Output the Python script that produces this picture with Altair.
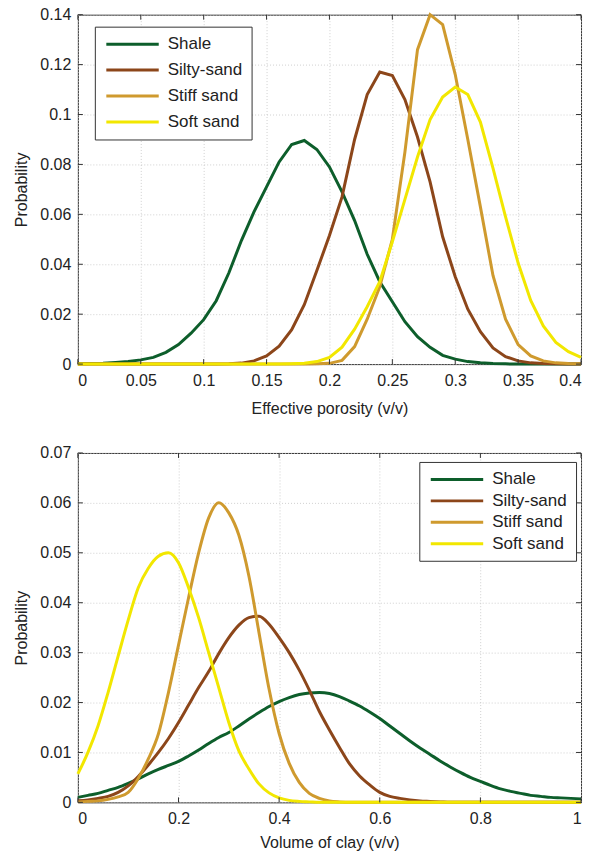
import altair as alt
import pandas as pd

FONT = "Liberation Sans"
series = ["Shale", "Silty-sand", "Stiff sand", "Soft sand"]
colors = ["#0d5e2b", "#8c461a", "#cf9a2e", "#f2e700"]

# ---------- top panel: effective porosity ----------
por_x = [0.00, 0.01, 0.02, 0.03, 0.04, 0.05, 0.06, 0.07, 0.08, 0.09,
         0.10, 0.11, 0.12, 0.13, 0.14, 0.15, 0.16, 0.17, 0.18, 0.19,
         0.20, 0.21, 0.22, 0.23, 0.24, 0.25, 0.26, 0.27, 0.28, 0.29,
         0.30, 0.31, 0.32, 0.33, 0.34, 0.35, 0.36, 0.37, 0.38, 0.39, 0.40]
por_shale = [0.0001, 0.0002, 0.0003, 0.0006, 0.0010, 0.0017, 0.0027, 0.0047, 0.0078, 0.0124,
             0.0178, 0.0254, 0.0365, 0.0495, 0.0610, 0.0710, 0.0810, 0.0880, 0.0896, 0.0860,
             0.0790, 0.0690, 0.0575, 0.0440, 0.0330, 0.0250, 0.0170, 0.0110, 0.0067, 0.0035,
             0.0020, 0.0010, 0.0005, 0.0002, 0.0001, 0.0, 0.0, 0.0, 0.0, 0.0, 0.0]
por_silty = [0.0, 0.0, 0.0, 0.0, 0.0, 0.0, 0.0, 0.0, 0.0, 0.0,
             0.0, 0.0, 0.0001, 0.0004, 0.0013, 0.0033, 0.0072, 0.0138, 0.0238, 0.0375,
             0.0515, 0.0670, 0.0900, 0.1080, 0.1170, 0.1156, 0.1060, 0.0910, 0.0730, 0.0510,
             0.0350, 0.0220, 0.0130, 0.0065, 0.0030, 0.0013, 0.0005, 0.0002, 0.0001, 0.0, 0.0]
por_stiff = [0.0, 0.0, 0.0, 0.0, 0.0, 0.0, 0.0, 0.0, 0.0, 0.0,
             0.0, 0.0, 0.0, 0.0, 0.0, 0.0, 0.0, 0.0, 0.0, 0.0001,
             0.0003, 0.0015, 0.0070, 0.0180, 0.0310, 0.0500, 0.0850, 0.1260, 0.1400, 0.1360,
             0.1160, 0.0900, 0.0630, 0.0355, 0.0180, 0.0078, 0.0033, 0.0013, 0.0005, 0.0002, 0.0001]
por_soft = [0.0, 0.0, 0.0, 0.0, 0.0, 0.0, 0.0, 0.0, 0.0, 0.0,
            0.0, 0.0, 0.0, 0.0, 0.0, 0.0, 0.0, 0.0001, 0.0003, 0.0010,
            0.0027, 0.0068, 0.0140, 0.0230, 0.0330, 0.0490, 0.0660, 0.0830, 0.0980, 0.1070,
            0.1110, 0.1080, 0.0970, 0.0785, 0.0590, 0.0405, 0.0255, 0.0153, 0.0087, 0.0050, 0.0027]

por_xticks = [0, 0.05, 0.1, 0.15, 0.2, 0.25, 0.3, 0.35, 0.4]
por_yticks = [0, 0.02, 0.04, 0.06, 0.08, 0.1, 0.12, 0.14]

# ---------- bottom panel: volume of clay ----------
vcl_x = [0.00, 0.02, 0.04, 0.06, 0.08, 0.10, 0.12, 0.14, 0.16, 0.18,
         0.20, 0.22, 0.24, 0.26, 0.28, 0.30, 0.32, 0.34, 0.36, 0.38,
         0.40, 0.42, 0.44, 0.46, 0.48, 0.50, 0.52, 0.54, 0.56, 0.58,
         0.60, 0.62, 0.64, 0.66, 0.68, 0.70, 0.72, 0.74, 0.76, 0.78,
         0.80, 0.82, 0.84, 0.86, 0.88, 0.90, 0.92, 0.94, 0.96, 0.98, 1.00]
vcl_shale = [0.0010, 0.0014, 0.0018, 0.0024, 0.0030, 0.0038, 0.0047, 0.0057, 0.0066, 0.0074,
             0.0082, 0.0093, 0.0105, 0.0118, 0.0130, 0.0140, 0.0153, 0.0167, 0.0180, 0.0192,
             0.0202, 0.0210, 0.0216, 0.0219, 0.0220, 0.0218, 0.0212, 0.0203, 0.0193, 0.0181,
             0.0168, 0.0153, 0.0138, 0.0123, 0.0109, 0.0096, 0.0083, 0.0071, 0.0060, 0.0050,
             0.0042, 0.0034, 0.0027, 0.0022, 0.0018, 0.0014, 0.0012, 0.0010, 0.0009, 0.0008, 0.0007]
vcl_silty = [0.0003, 0.0005, 0.0008, 0.0012, 0.0020, 0.0033, 0.0052, 0.0075, 0.0100, 0.0128,
             0.0160, 0.0195, 0.0230, 0.0262, 0.0298, 0.0330, 0.0355, 0.0370, 0.0373, 0.0357,
             0.0330, 0.0300, 0.0265, 0.0225, 0.0182, 0.0145, 0.0110, 0.0077, 0.0053, 0.0035,
             0.0020, 0.0012, 0.0008, 0.0005, 0.0003, 0.0002, 0.0001, 0.0, 0.0, 0.0,
             0.0, 0.0, 0.0, 0.0, 0.0, 0.0, 0.0, 0.0, 0.0, 0.0, 0.0]
vcl_stiff = [0.0001, 0.0002, 0.0003, 0.0006, 0.0011, 0.0020, 0.0048, 0.0087, 0.0137, 0.0220,
             0.0315, 0.0410, 0.0500, 0.0570, 0.0600, 0.0580, 0.0535, 0.0453, 0.0340, 0.0227,
             0.0138, 0.0078, 0.0040, 0.0018, 0.0008, 0.0003, 0.0001, 0.0, 0.0, 0.0,
             0.0, 0.0, 0.0, 0.0, 0.0, 0.0, 0.0, 0.0, 0.0, 0.0,
             0.0, 0.0, 0.0, 0.0, 0.0, 0.0, 0.0, 0.0, 0.0, 0.0, 0.0]
vcl_soft = [0.0057, 0.0100, 0.0153, 0.0220, 0.0293, 0.0365, 0.0430, 0.0469, 0.0493, 0.0500,
            0.0480, 0.0430, 0.0370, 0.0300, 0.0230, 0.0160, 0.0103, 0.0067, 0.0037, 0.0019,
            0.0009, 0.0004, 0.0002, 0.0001, 0.0, 0.0, 0.0, 0.0, 0.0, 0.0,
            0.0, 0.0, 0.0, 0.0, 0.0, 0.0, 0.0, 0.0, 0.0, 0.0,
            0.0, 0.0, 0.0, 0.0, 0.0, 0.0, 0.0, 0.0, 0.0, 0.0, 0.0]

vcl_xticks = [0, 0.2, 0.4, 0.6, 0.8, 1]
vcl_yticks = [0, 0.01, 0.02, 0.03, 0.04, 0.05, 0.06, 0.07]

W, H = 504, 350
FS = 16


def long_table(xs, cols):
    rows = []
    for name, vals in zip(series, cols):
        for x, y in zip(xs, vals):
            rows.append({"x": x, "y": y, "series": name})
    return pd.DataFrame(rows)


def panel(df, xtitle, xdom, xticks, ydom, yticks, lx, ly, row_pad, interp, xtp):
    xs = alt.Scale(domain=xdom, nice=False, zero=False)
    ys = alt.Scale(domain=ydom, nice=False)
    color = alt.Color(
        "series:N",
        scale=alt.Scale(domain=series, range=colors),
        sort=series,
        legend=alt.Legend(
            title=None, orient="none", legendX=lx, legendY=ly,
            symbolType="M-1,0H7.75", symbolSize=144, symbolStrokeWidth=3,
            labelFontSize=17, labelFont=FONT, labelColor="#222",
            strokeColor="#333", fillColor="white", padding=9,
            rowPadding=row_pad, labelOffset=47,
        ),
    )
    lines = alt.Chart(df).mark_line(strokeWidth=3, interpolate=interp).encode(
        x=alt.X("x:Q", scale=xs, title=xtitle,
                axis=alt.Axis(values=xticks, format="~g", grid=True, titlePadding=xtp)),
        y=alt.Y("y:Q", scale=ys, title="Probability",
                axis=alt.Axis(values=yticks, format="~g", grid=True)),
        color=color,
        order="x:Q",
    )
    xt = pd.DataFrame({"t": xticks})
    yt = pd.DataFrame({"t": yticks})
    tb = alt.Chart(xt).mark_rule(color="#333", strokeWidth=1).encode(
        x=alt.X("t:Q", scale=xs), y=alt.value(H), y2=alt.value(H - 5))
    tt = alt.Chart(xt).mark_rule(color="#333", strokeWidth=1).encode(
        x=alt.X("t:Q", scale=xs), y=alt.value(0), y2=alt.value(5))
    tl = alt.Chart(yt).mark_rule(color="#333", strokeWidth=1).encode(
        y=alt.Y("t:Q", scale=ys), x=alt.value(0), x2=alt.value(5))
    tr = alt.Chart(yt).mark_rule(color="#333", strokeWidth=1).encode(
        y=alt.Y("t:Q", scale=ys), x=alt.value(W), x2=alt.value(W - 5))
    return alt.layer(lines, tb, tt, tl, tr).properties(width=W, height=H)


top = panel(long_table(por_x, [por_shale, por_silty, por_stiff, por_soft]),
            "Effective porosity (v/v)", [0, 0.4], por_xticks, [0, 0.14], por_yticks,
            17, 12, 8, "linear", 12)
bottom = panel(long_table(vcl_x, [vcl_shale, vcl_silty, vcl_stiff, vcl_soft]),
               "Volume of clay (v/v)", [0, 1], vcl_xticks, [0, 0.07], vcl_yticks,
               342, 9, 3.5, "monotone", 8)

chart = alt.vconcat(top, bottom, spacing=27).resolve_scale(
    color="independent"
).resolve_legend(color="independent").properties(
    padding={"left": 13, "top": 5, "right": 10, "bottom": 0}
).configure_view(stroke="#333", strokeWidth=1).configure_axis(
    labelFont=FONT, titleFont=FONT, labelFontSize=FS, titleFontSize=FS,
    titleFontWeight="normal", labelColor="#222", titleColor="#222",
    domain=False, ticks=False, labelPadding=8, titlePadding=12,
    gridColor="#c4c4c4", gridDash=[1, 2], gridWidth=0.8,
).configure_axisY(labelPadding=7, titlePadding=10)

chart.save("out.html", embed_options={"renderer": "svg", "actions": False})
